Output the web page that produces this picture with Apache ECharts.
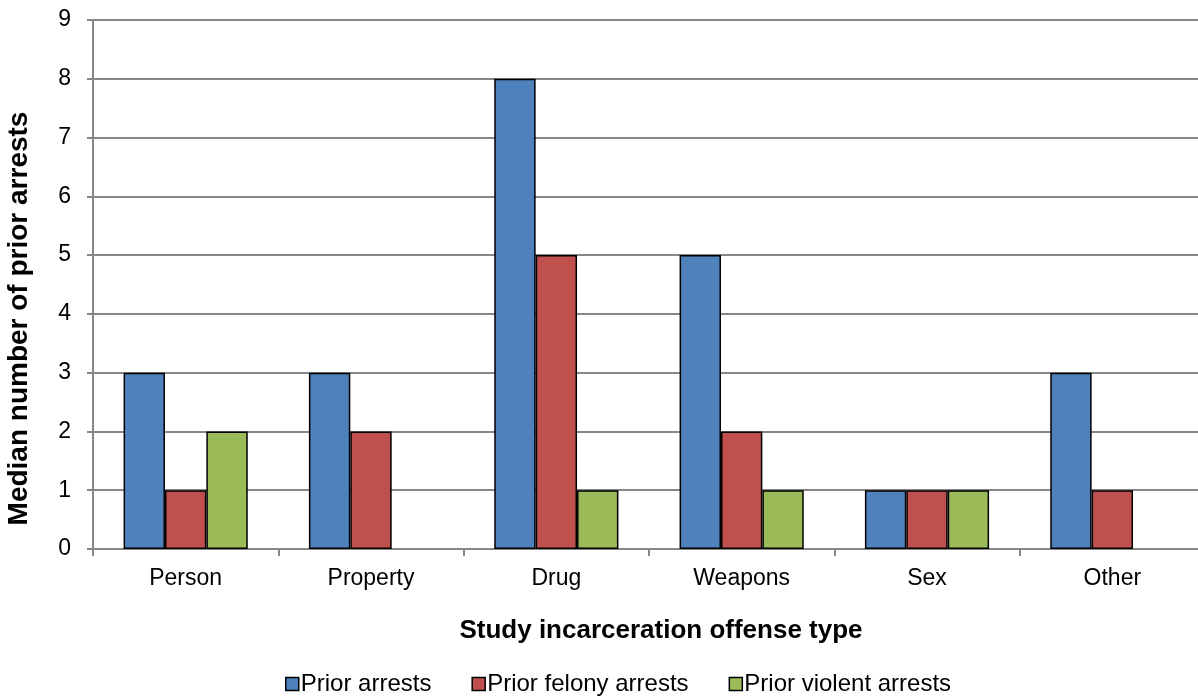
<!DOCTYPE html>
<html><head><meta charset="utf-8">
<script src="https://cdn.jsdelivr.net/npm/echarts@6/dist/echarts.min.js"></script>
<style>html,body{margin:0;padding:0;background:#fff}#c{width:1198px;height:698px}</style>
</head><body><div id="c"></div>
<script>
const categories = ['Person','Property','Drug','Weapons','Sex','Other'];
const priorArrests = [3,3,8,5,1,3];
const priorFelony = [1,2,5,2,1,1];
const priorViolent = [2,0,1,1,1,0];
const yTicks = [0,1,2,3,4,5,6,7,8,9];

const colors = ['#4F81BD','#C0504D','#9BBB59'];
function mk(arr){return arr.map(v=>v===0?{value:0,itemStyle:{borderWidth:0}}:v);}
const font='"Liberation Sans", Arial, sans-serif';
const chart = echarts.init(document.getElementById('c'));
chart.setOption({
  animation:false,
  grid:{left:93,right:-7,top:20,bottom:149,containLabel:false,outerBoundsMode:'none'},
  legend:{top:667,left:280,itemWidth:13,itemHeight:13,itemGap:40,
    icon:'rect',
    itemStyle:{borderColor:'#000',borderWidth:1.5},
    textStyle:{fontFamily:font,fontSize:24,color:'#000',padding:[0,0,0,-3]},
    data:['Prior arrests','Prior felony arrests','Prior violent arrests']},
  xAxis:{type:'category',data:categories,
    name:'Study incarceration offense type',nameLocation:'middle',nameGap:69,
    nameTextStyle:{fontFamily:font,fontSize:26,fontWeight:'bold',color:'#000',padding:[0,0,0,24]},
    axisLine:{lineStyle:{color:'#878787',width:2}},
    axisTick:{show:true,length:7,lineStyle:{color:'#878787',width:2}},
    axisLabel:{fontFamily:font,fontSize:23,color:'#000',margin:18}},
  yAxis:{type:'value',min:0,max:9,interval:1,
    name:'Median number of prior arrests',nameLocation:'middle',nameGap:60,
    nameTextStyle:{fontFamily:font,fontSize:28,fontWeight:'bold',color:'#000',padding:[0,68,0,0]},
    axisLine:{show:true,lineStyle:{color:'#878787',width:2}},
    axisTick:{show:true,length:6,lineStyle:{color:'#878787',width:2}},
    axisLabel:{fontFamily:font,fontSize:23,color:'#000',margin:22,
      formatter:v=>yTicks.includes(v)?String(v):''},
    splitLine:{lineStyle:{color:'#878787',width:2}}},
  series:[
    {name:'Prior arrests',type:'bar',data:mk(priorArrests),barGap:'0%',barCategoryGap:'33%',
      itemStyle:{color:colors[0],borderColor:'#000',borderWidth:1.5}},
    {name:'Prior felony arrests',type:'bar',data:mk(priorFelony),barGap:'0%',barCategoryGap:'33%',
      itemStyle:{color:colors[1],borderColor:'#000',borderWidth:1.5}},
    {name:'Prior violent arrests',type:'bar',data:mk(priorViolent),barGap:'0%',barCategoryGap:'33%',
      itemStyle:{color:colors[2],borderColor:'#000',borderWidth:1.5}}
  ]
});
</script></body></html>
